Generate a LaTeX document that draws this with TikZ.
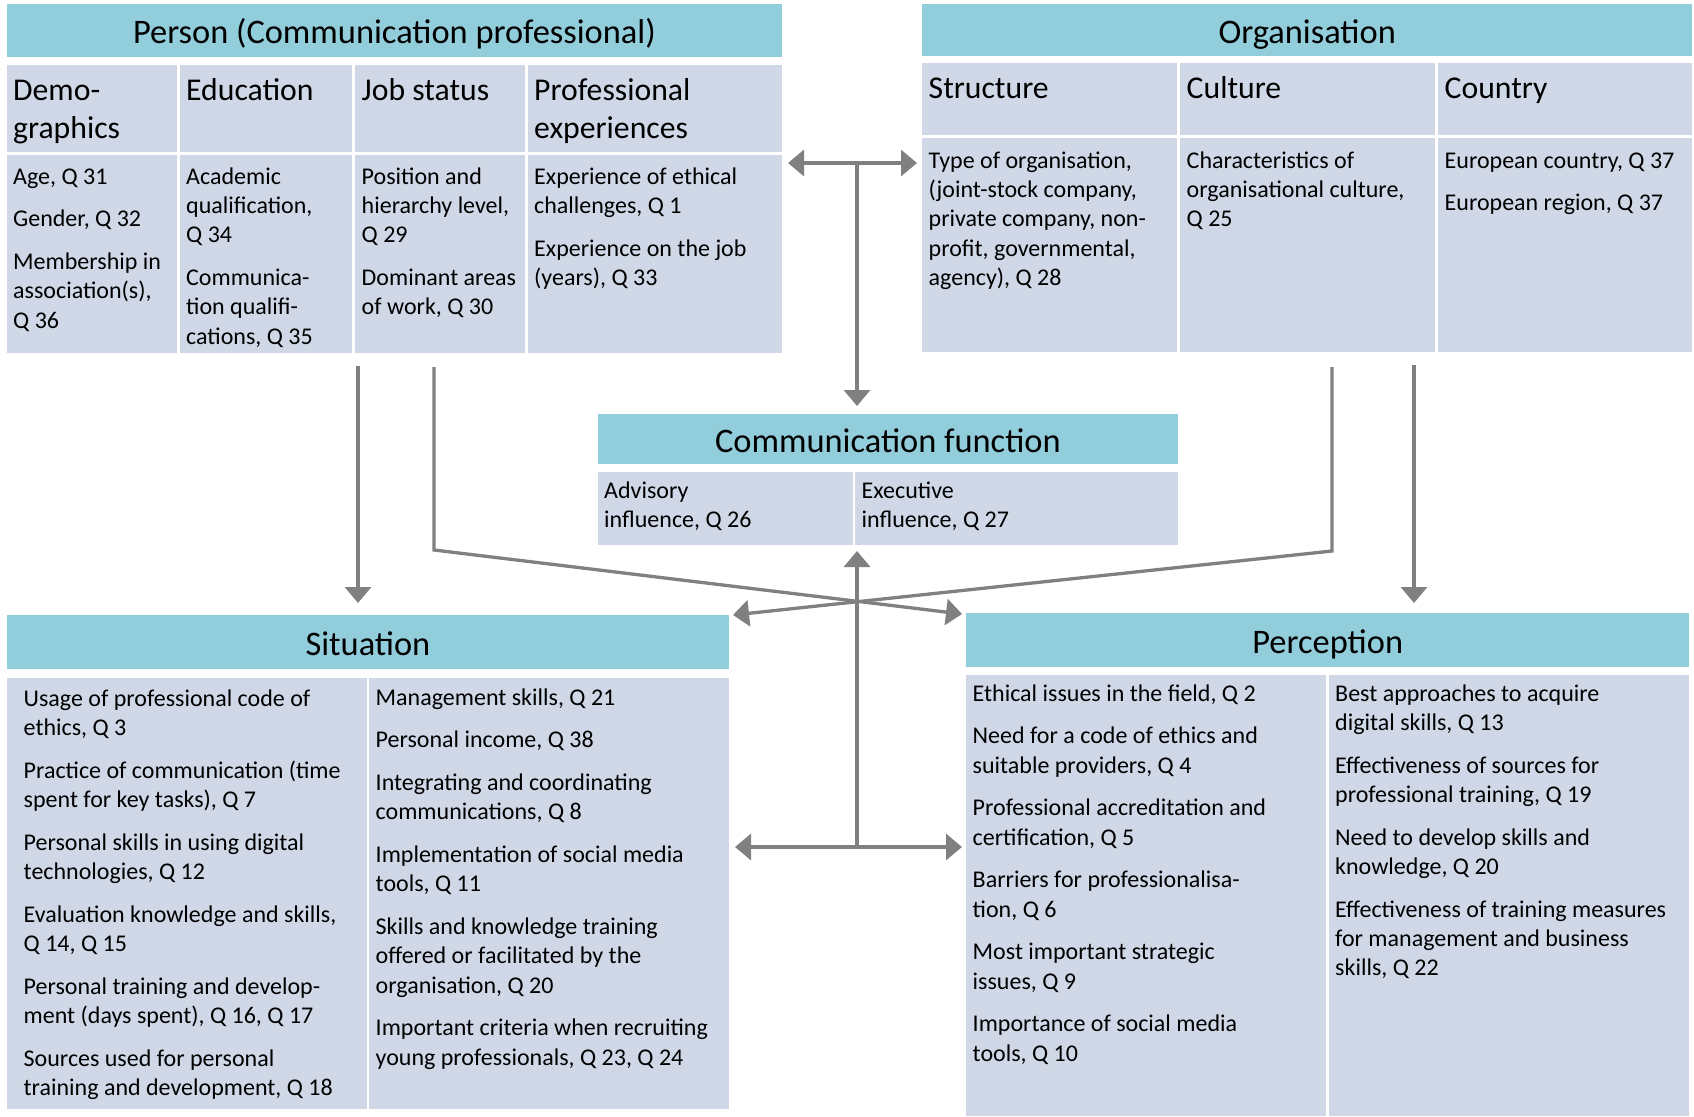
\documentclass[tikz,border=0pt]{standalone}
\usepackage{fontspec}
\setmainfont{Carlito}
\usepackage{tikz}
\usetikzlibrary{arrows.meta}
\definecolor{headblue}{RGB}{146,205,220}
\definecolor{cellblue}{RGB}{208,216,232}
\definecolor{arrowgray}{RGB}{128,128,128}
% width, height, first baseline, text
\newcommand{\cellbody}[4]{\parbox[t][#2pt][t]{#1pt}{\raggedright\setlength{\parskip}{13.4pt}\rule{0pt}{#3pt}#4}}

\begin{document}
\begin{tikzpicture}[x=1pt, y=-1pt]
\tikzstyle{head}=[fill=headblue, anchor=north west, inner sep=0pt, text height=29pt, text depth=1.6pt, font=\fontsize{34.4}{41}\selectfont]
\tikzstyle{subhead}=[fill=cellblue, anchor=north west, inner xsep=6.5pt, inner ysep=0pt, font=\fontsize{31.7}{38.7}\selectfont]
\tikzstyle{cell}=[fill=cellblue, anchor=north west, inner xsep=6.5pt, inner ysep=0pt, font=\fontsize{24}{29.3}\selectfont]
\tikzstyle{conn}=[draw=arrowgray, line width=3.3pt, >={Triangle[length=16pt, width=26pt]}]

\useasboundingbox (0,0) rectangle (1694,1116);

% Person
\node[head, minimum width=775.5pt, minimum height=53pt] (person) at (6.5,3.5) {Person (Communication professional)};
\node[subhead] (pDemoH) at (6.5,65) {\cellbody{157.5}{87}{35}{Demo-\\graphics}};
\node[subhead] (pEduH) at (179.5,65) {\cellbody{159.5}{87}{35}{Education}};
\node[subhead] (pJobH) at (355,65) {\cellbody{157}{87}{35}{Job status}};
\node[subhead] (pExpH) at (527.5,65) {\cellbody{241.5}{87}{35}{Professional\\experiences}};
\node[cell] (pDemo) at (6.5,154.5) {\cellbody{157.5}{198.5}{29.5}{Age, Q 31\par Gender, Q 32\par Membership in\\association(s),\\Q 36}};
\node[cell] (pEdu) at (179.5,154.5) {\cellbody{159.5}{198.5}{29.5}{Academic\\qualification,\\Q 34\par Communica-\\tion qualifi-\\cations, Q 35}};
\node[cell] (pJob) at (355,154.5) {\cellbody{157}{198.5}{29.5}{Position and\\hierarchy level,\\Q 29\par Dominant areas\\of work, Q 30}};
\node[cell] (pExp) at (527.5,154.5) {\cellbody{241.5}{198.5}{29.5}{Experience of ethical\\challenges, Q 1\par Experience on the job\\(years), Q 33}};

% Organisation
\node[head, minimum width=770pt, minimum height=52pt] (org) at (922,3.5) {Organisation};
\node[subhead] (oStrH) at (922,63) {\cellbody{242}{72}{35.5}{Structure}};
\node[subhead] (oCulH) at (1180,63) {\cellbody{242}{72}{35.5}{Culture}};
\node[subhead] (oCtyH) at (1438,63) {\cellbody{241}{72}{35.5}{Country}};
\node[cell] (oStr) at (922,137.5) {\cellbody{242}{214.5}{30.5}{Type of organisation,\\(joint-stock company,\\private company, non-\\profit, governmental,\\agency), Q 28}};
\node[cell] (oCul) at (1180,137.5) {\cellbody{242}{214.5}{30.5}{Characteristics of\\organisational culture,\\Q 25}};
\node[cell] (oCty) at (1438,137.5) {\cellbody{241}{214.5}{30.5}{European country, Q 37\par European region, Q 37}};

% Communication function
\node[head, minimum width=580.5pt, minimum height=50.5pt] (cf) at (597.5,413.5) {Communication function};
\node[cell] (cfAdv) at (597.5,472) {\cellbody{242}{72.5}{26}{Advisory\\influence, Q 26}};
\node[cell] (cfExe) at (855,472) {\cellbody{310}{72.5}{26}{Executive\\influence, Q 27}};

% Situation
\node[head, minimum width=722.5pt, minimum height=54pt] (sit) at (6.5,615) {Situation};
\node[cell, inner xsep=17pt] (sitL) at (6.5,677.5) {\cellbody{326}{431.5}{28.5}{Usage of professional code of\\ethics, Q 3\par Practice of communication (time\\spent for key tasks), Q 7\par Personal skills in using digital\\technologies, Q 12\par Evaluation knowledge and skills,\\Q 14, Q 15\par Personal training and develop-\\ment (days spent), Q 16, Q 17\par Sources used for personal\\training and development, Q 18}};
\node[cell] (sitR) at (369,677.5) {\cellbody{347}{431.5}{27.5}{Management skills, Q 21\par Personal income, Q 38\par Integrating and coordinating\\communications, Q 8\par Implementation of social media\\tools, Q 11\par Skills and knowledge training\\offered or facilitated by the\\organisation, Q 20\par Important criteria when recruiting\\young professionals, Q 23, Q 24}};

% Perception
\node[head, minimum width=723pt, minimum height=54pt] (perc) at (966,613) {Perception};
\node[cell] (percL) at (966,675) {\cellbody{346.5}{441}{26}{Ethical issues in the field, Q 2\par Need for a code of ethics and\\suitable providers, Q 4\par Professional accreditation and\\certification, Q 5\par Barriers for professionalisa-\\tion, Q 6\par Most important strategic\\issues, Q 9\par Importance of social media\\tools, Q 10}};
\node[cell] (percR) at (1328.5,675) {\cellbody{347.5}{441}{26}{Best approaches to acquire\\digital skills, Q 13\par Effectiveness of sources for\\professional training, Q 19\par Need to develop skills and\\knowledge, Q 20\par Effectiveness of training measures\\for management and business\\skills, Q 22}};

% connectors
\coordinate (topL) at (788,163);
\coordinate (topR) at (917,163);
\coordinate (topC) at (857,163);
\coordinate (cfIn) at (857,406);
\coordinate (botL) at (735,847);
\coordinate (botR) at (962,847);
\coordinate (botC) at (857,847);
\coordinate (cfOut) at (857,551);
\coordinate (pA) at (358,366);
\coordinate (sitIn) at (358,603);
\coordinate (pB) at (434,367);
\coordinate (bendB) at (434,550);
\coordinate (percTip) at (962,614);
\coordinate (oA) at (1332,367);
\coordinate (bendA) at (1332,551);
\coordinate (sitTip) at (733,615);
\coordinate (oB) at (1414,365);
\coordinate (percIn) at (1414,603);

\path (topL) edge[conn, <->] (topR)
      (topC) edge[conn, ->] (cfIn)
      (botL) edge[conn, <->] (botR)
      (botC) edge[conn, ->] (cfOut)
      (pA) edge[conn, ->] (sitIn)
      (oB) edge[conn, ->] (percIn);
\draw[conn, ->] (pB) -- (bendB) -- (percTip);
\draw[conn, ->] (oA) -- (bendA) -- (sitTip);

\end{tikzpicture}
\end{document}
